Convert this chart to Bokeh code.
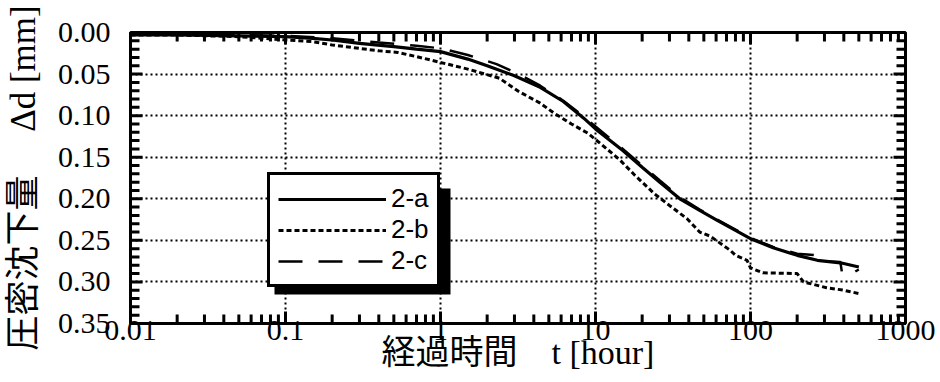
from bokeh.plotting import figure
from bokeh.models import (Range1d, FixedTicker, Legend, LegendItem,
                          BoxAnnotation)
from bokeh.embed import file_html
from bokeh.resources import INLINE

# ---------------- data ----------------
series_names = ["2-a", "2-b", "2-c"]

t_a = [0.01, 0.02, 0.05, 0.1, 0.15, 0.2, 0.3, 0.5, 0.7, 1.0, 1.5, 2.0, 3.0,
       4.4, 6.2, 8.4, 10, 15, 20, 26, 35, 47, 61, 80, 100, 140, 200, 270,
       380, 500]
d_a = [0.003, 0.003, 0.004, 0.005, 0.007, 0.009, 0.013, 0.017, 0.020, 0.023,
       0.032, 0.040, 0.052, 0.066, 0.083, 0.103, 0.116, 0.142, 0.162, 0.180,
       0.200, 0.214, 0.226, 0.238, 0.248, 0.259, 0.268, 0.274, 0.277, 0.282]

t_b = [0.01, 0.02, 0.05, 0.1, 0.15, 0.2, 0.27, 0.4, 0.53, 0.7, 1.0, 1.5, 2.4,
       3.2, 4.4, 5.4, 7.0, 8.9, 11, 14.5, 18, 24, 30, 39, 47, 55, 74, 80, 95,
       100, 120, 200, 220, 310, 400, 500]
d_b = [0.003, 0.003, 0.005, 0.009, 0.011, 0.015, 0.018, 0.022, 0.024, 0.029,
       0.036, 0.044, 0.055, 0.071, 0.085, 0.097, 0.110, 0.121, 0.135, 0.154,
       0.172, 0.194, 0.208, 0.224, 0.240, 0.245, 0.262, 0.268, 0.274, 0.283,
       0.289, 0.290, 0.300, 0.307, 0.310, 0.314]

t_c = [0.01, 0.02, 0.05, 0.1, 0.2, 0.4, 0.7, 1.0, 1.5, 2.3, 3.2, 4.4, 6.2,
       8.4, 10, 15, 20, 26, 35, 47, 61, 80, 100, 140, 200, 270, 280, 380,
       390, 450, 500]
d_c = [0.002, 0.002, 0.003, 0.004, 0.007, 0.012, 0.016, 0.019, 0.027, 0.038,
       0.050, 0.064, 0.082, 0.101, 0.113, 0.140, 0.160, 0.178, 0.198, 0.213,
       0.225, 0.237, 0.247, 0.258, 0.266, 0.268, 0.275, 0.276, 0.290, 0.290,
       0.285]

x_ticks = [0.01, 0.1, 1, 10, 100, 1000]
x_tick_labels = ["0.01", "0.1", "1", "10", "100", "1000"]
y_ticks = [0.0, 0.05, 0.1, 0.15, 0.2, 0.25, 0.3, 0.35]
y_tick_labels = ["0.00", "0.05", "0.10", "0.15", "0.20", "0.25", "0.30", "0.35"]

x_label = "経過時間　t [hour]"
y_label = "圧密沈下量　 Δd [mm]"

# ---------------- figure ----------------
SERIF = "Liberation Serif, Noto Sans CJK JP"
W, H = 940, 382
BL, BR, BT, BB = 130, 35, 32, 59
FW, FH = W - BL - BR, H - BT - BB          # frame size in px
X0, X1, Y0, Y1 = 0.01, 1000.0, 0.35, 0.0

p = figure(width=W, height=H, x_axis_type="log",
           x_range=Range1d(X0, X1), y_range=Range1d(Y0, Y1),
           output_backend="svg", toolbar_location=None,
           min_border_left=BL, min_border_right=BR,
           min_border_top=BT, min_border_bottom=BB)
p.background_fill_color = "white"
p.border_fill_color = "white"
p.outline_line_color = "black"
p.outline_line_width = 3
p.outline_line_alpha = 1

x_minor = [m * 10.0 ** e for e in range(-2, 3) for m in range(2, 10)]
y_minor = [round(0.01 * i, 2) for i in range(36) if i % 5]
x_ticker = FixedTicker(ticks=x_ticks, minor_ticks=x_minor)
y_ticker = FixedTicker(ticks=y_ticks, minor_ticks=y_minor)


def style_axis(ax):
    ax.major_tick_in = 0
    ax.major_tick_out = 0
    ax.minor_tick_in = 0
    ax.minor_tick_out = 0
    ax.axis_line_width = 3
    ax.axis_line_color = "black"
    ax.major_label_text_color = "black"
    ax.major_label_text_font = SERIF
    ax.major_label_text_font_size = "30px"
    ax.axis_label_text_font = SERIF
    ax.axis_label_text_font_size = "34px"
    ax.axis_label_text_font_style = "normal"
    ax.axis_label_text_color = "black"


xa = p.xaxis[0]
xa.ticker = x_ticker
xa.major_label_overrides = dict(zip(x_ticks, x_tick_labels))
style_axis(xa)
xa.axis_label = x_label
xa.major_label_standoff = -3
xa.axis_label_standoff = -9

ya = p.yaxis[0]
ya.ticker = y_ticker
ya.major_label_overrides = dict(zip(y_ticks, y_tick_labels))
style_axis(ya)
ya.axis_label = y_label
ya.axis_label_text_font_size = "35px"
ya.major_label_standoff = 20
ya.axis_label_standoff = 12

for g in (p.xgrid[0], p.ygrid[0]):
    g.grid_line_color = "black"
    g.grid_line_width = 2
    g.grid_line_dash = "2 3"
p.xgrid[0].ticker = x_ticker
p.ygrid[0].ticker = y_ticker

# inward tick marks on all four sides of the frame (length in px -> data)
MAJ, MIN = 12, 9
TICK_COLOR = "black"
TICK_W = 3


def dy(px):
    return px * (Y0 - Y1) / FH


def fx(px):
    return 10 ** (px * 5.0 / FW)


for ticks, L in ((x_ticks, MAJ), (x_minor, MIN)):
    p.segment(x0=ticks, y0=[Y0] * len(ticks), x1=ticks,
              y1=[Y0 - dy(L)] * len(ticks), line_color=TICK_COLOR,
              line_width=TICK_W)
    p.segment(x0=ticks, y0=[Y1] * len(ticks), x1=ticks,
              y1=[Y1 + dy(L)] * len(ticks), line_color=TICK_COLOR,
              line_width=TICK_W)
for ticks, L in ((y_ticks, MAJ), (y_minor, MIN)):
    p.segment(x0=[X0] * len(ticks), y0=ticks, x1=[X0 * fx(L)] * len(ticks),
              y1=ticks, line_color=TICK_COLOR, line_width=TICK_W)
    p.segment(x0=[X1] * len(ticks), y0=ticks, x1=[X1 / fx(L)] * len(ticks),
              y1=ticks, line_color=TICK_COLOR, line_width=TICK_W)

r_a = p.line(t_a, d_a, line_color="black", line_width=3.2)
r_b = p.line(t_b, d_b, line_color="black", line_width=3, line_dash="5 3")
r_c = p.line(t_c, d_c, line_color="black", line_width=2.5, line_dash="24 16")

# legend shadow
LEG_X, LEG_Y, LEG_W, LEG_H, SH = 137, 36, 176, 106, 7
shadow = BoxAnnotation(left=LEG_X + SH, right=LEG_X + LEG_W + SH,
                       bottom=LEG_Y - SH, top=LEG_Y + LEG_H - SH,
                       left_units="screen", right_units="screen",
                       bottom_units="screen", top_units="screen",
                       fill_color="black", fill_alpha=1, line_alpha=0)
p.add_layout(shadow)

legend = Legend(items=[LegendItem(label=n, renderers=[r])
                       for n, r in zip(series_names, [r_a, r_b, r_c])],
                location=(LEG_X, LEG_Y), padding=8, spacing=0,
                glyph_width=108, glyph_height=20, label_standoff=5,
                label_text_font="Liberation Sans", label_text_font_size="26px",
                label_text_color="black",
                border_line_color="black", border_line_width=3,
                border_line_alpha=1,
                background_fill_color="white", background_fill_alpha=1)
p.add_layout(legend)

open("out.html", "w").write(file_html(p, INLINE))
